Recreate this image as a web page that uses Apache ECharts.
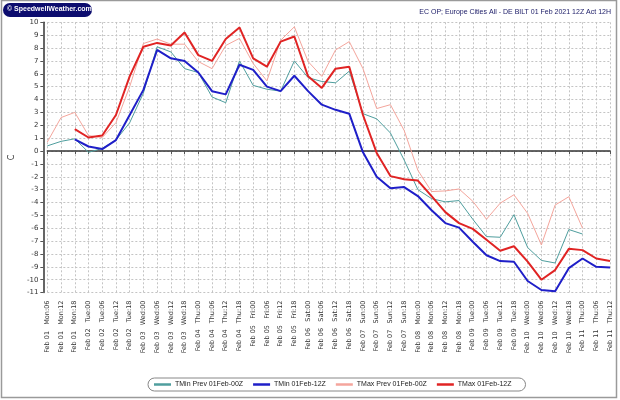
<!DOCTYPE html>
<html>
<head>
<meta charset="utf-8">
<script src="https://cdn.jsdelivr.net/npm/echarts@6/dist/echarts.min.js"></script>
<style>html,body{margin:0;padding:0;background:#fff}#c{width:620px;height:400px}</style>
</head>
<body>
<div id="c"></div>
<script>
const days = ["Feb 01 Mon","Feb 01 Mon","Feb 01 Mon",
  "Feb 02 Tue","Feb 02 Tue","Feb 02 Tue","Feb 02 Tue",
  "Feb 03 Wed","Feb 03 Wed","Feb 03 Wed","Feb 03 Wed",
  "Feb 04 Thu","Feb 04 Thu","Feb 04 Thu","Feb 04 Thu",
  "Feb 05 Fri","Feb 05 Fri","Feb 05 Fri","Feb 05 Fri",
  "Feb 06 Sat","Feb 06 Sat","Feb 06 Sat","Feb 06 Sat",
  "Feb 07 Sun","Feb 07 Sun","Feb 07 Sun","Feb 07 Sun",
  "Feb 08 Mon","Feb 08 Mon","Feb 08 Mon","Feb 08 Mon",
  "Feb 09 Tue","Feb 09 Tue","Feb 09 Tue","Feb 09 Tue",
  "Feb 10 Wed","Feb 10 Wed","Feb 10 Wed","Feb 10 Wed",
  "Feb 11 Thu","Feb 11 Thu","Feb 11 Thu"];
const hours = ["06","12","18",
  "00","06","12","18","00","06","12","18","00","06","12","18",
  "00","06","12","18","00","06","12","18","00","06","12","18",
  "00","06","12","18","00","06","12","18","00","06","12","18",
  "00","06","12"];
const categories = days.map((d,i)=>{const p=d.split(' ');return p[0]+' '+p[1]+'   '+p[2]+':'+hours[i];});

const tminPrev = [0.4,0.75,0.95,-0.1,0.2,0.85,2.2,4.5,8.1,7.7,6.4,6.1,4.2,3.75,7.0,5.1,4.8,4.65,7.0,5.7,5.4,5.3,6.2,2.9,2.5,1.4,-0.7,-3.0,-3.7,-3.95,-3.85,-5.3,-6.65,-6.7,-4.95,-7.5,-8.5,-8.7,-6.1,-6.45,null,null];
const tmin = [null,null,0.9,0.35,0.15,0.85,2.8,4.75,7.85,7.2,7.0,6.1,4.65,4.4,6.7,6.3,5.0,4.65,5.85,4.65,3.6,3.2,2.9,-0.1,-2.0,-2.9,-2.8,-3.5,-4.6,-5.6,-5.95,-7.05,-8.1,-8.55,-8.6,-10.1,-10.8,-10.9,-9.1,-8.35,-9.0,-9.05];
const tmaxPrev = [0.7,2.6,3.0,1.2,1.05,2.2,5.0,8.35,8.7,8.3,8.3,6.95,6.4,8.2,8.75,6.8,5.45,8.6,9.65,6.95,5.8,7.85,8.5,6.4,3.3,3.6,1.6,-1.5,-3.15,-3.1,-2.95,-3.9,-5.3,-4.05,-3.4,-4.85,-7.3,-4.2,-3.55,-6.0,null,null];
const tmax = [null,null,1.7,1.05,1.2,2.8,5.8,8.1,8.4,8.2,9.2,7.45,7.0,8.7,9.6,7.2,6.55,8.5,8.9,5.8,4.9,6.4,6.55,2.8,-0.15,-1.95,-2.2,-2.3,-3.5,-4.75,-5.6,-6.05,-6.9,-7.75,-7.4,-8.6,-10.0,-9.25,-7.6,-7.7,-8.35,-8.55];

const seriesNames = ["TMin Prev 01Feb-00Z","TMin 01Feb-12Z","TMax Prev 01Feb-00Z","TMax 01Feb-12Z"];
const yMin = -11, yMax = 10;

const chart = echarts.init(document.getElementById('c'), null, {renderer:'canvas'});
const font = 'DejaVu Sans';
function mk(name, data, color, width, z){
  return {name, type:'line', data, symbol:'none', showSymbol:false, connectNulls:false,
    lineStyle:{color, width}, itemStyle:{color}, z, animation:false};
}
chart.setOption({
  animation:false,
  backgroundColor:'#fff',
  graphic:[
    {type:'rect', shape:{x:1.5,y:0.5,width:615,height:397}, style:{fill:'none', stroke:'#9a9a9a', lineWidth:1.5}, silent:true, z:-1},
    {type:'rect', shape:{x:3,y:3,width:89,height:14,r:7}, style:{fill:'#0c0c6e'}, z:10},
    {type:'text', left:7, top:5.5, style:{text:'© SpeedwellWeather.com', fill:'#fff', font:'bold 7px "Liberation Sans"'}, z:11},
    {type:'text', right:9, top:9, style:{text:'EC OP; Europe Cities All - DE BILT 01 Feb 2021 12Z Act 12H', fill:'#1a1a66', font:'7px "Liberation Sans"'}, z:11}
  ],
  grid:{left:41, right:10, top:22.3, bottom:107.4, containLabel:false},
  legend:{
    data:seriesNames.map(n=>({name:n, icon:'rect'})), left:148, top:378, orient:'horizontal',
    itemWidth:17, itemHeight:2.5, itemGap:10,
    borderColor:'#888', borderWidth:1, borderRadius:8, padding:[3,14,3,6],
    textStyle:{fontFamily:'Liberation Sans', fontSize:7, color:'#222', padding:[0,0,0,-1]}
  },
  xAxis:{
    type:'category', data:categories, boundaryGap:false,
    axisLine:{show:true, lineStyle:{color:'#333', width:1.5}},
    axisTick:{show:true, alignWithLabel:true, length:3, lineStyle:{color:'#555'}, interval:0},
    axisLabel:{interval:0, rotate:90, fontFamily:font, fontSize:6.5, color:'#333', margin:8},
    splitLine:{show:true, interval:0, lineStyle:{color:'#c4c4c4', type:[2,2], width:1}}
  },
  yAxis:{
    type:'value', min:yMin, max:yMax, interval:1, offset:4,
    name:'C', nameLocation:'middle', nameGap:25, nameRotate:90,
    nameTextStyle:{fontFamily:font, fontSize:8, color:'#333'},
    axisLine:{show:true, lineStyle:{color:'#333', width:1.5}},
    axisTick:{show:true, length:3, lineStyle:{color:'#555'}},
    axisLabel:{fontFamily:font, fontSize:7, color:'#333', margin:5},
    splitLine:{show:true, lineStyle:{color:'#c4c4c4', type:[2,2], width:1}}
  },
  series:[
    mk(seriesNames[0], tminPrev, '#4f9e9e', 1, 2),
    mk(seriesNames[1], tmin, '#1f1fc8', 2, 4),
    mk(seriesNames[2], tmaxPrev, '#f4a59c', 1, 1),
    mk(seriesNames[3], tmax, '#e02424', 2, 3)
  ]
});
</script>
</body>
</html>
